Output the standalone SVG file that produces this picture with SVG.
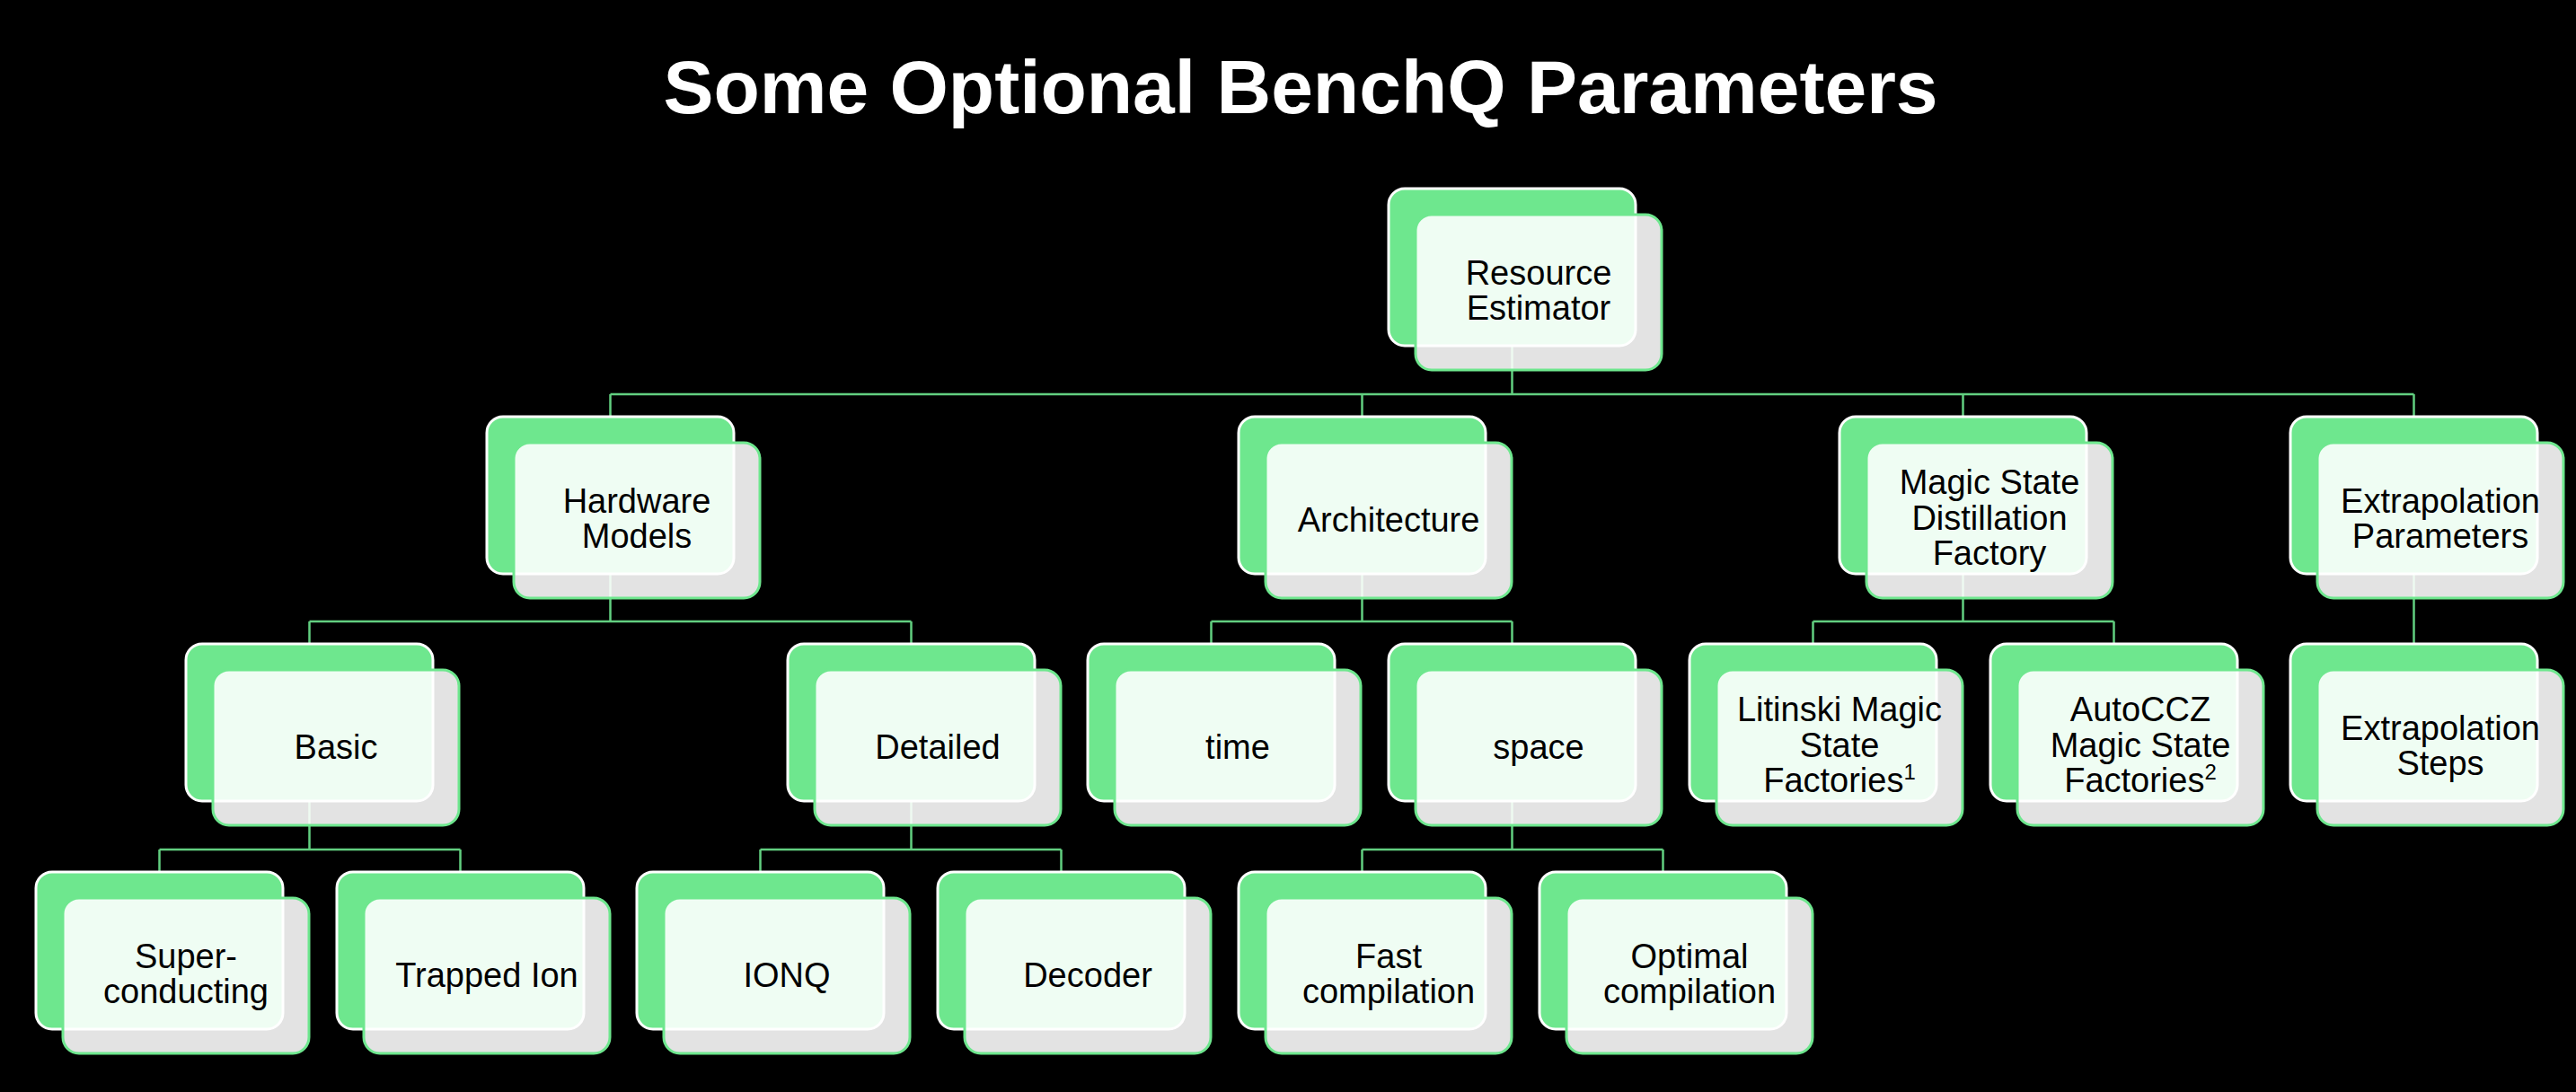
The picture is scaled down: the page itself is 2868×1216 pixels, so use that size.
<svg xmlns="http://www.w3.org/2000/svg" width="2868" height="1216" viewBox="0 0 2868 1216">
<style>
.back{fill:#6ee78e;stroke:#ffffff;stroke-width:3}
.front{fill:#ffffff;fill-opacity:0.89;stroke:#6ee78e;stroke-width:3}
.lbl{font-family:"Liberation Sans",Arial,sans-serif;font-size:38px;fill:#000000;text-anchor:middle}
.conn{fill:none;stroke:#62cf80;stroke-width:2.5}
.title{font-family:"Liberation Sans",Arial,sans-serif;font-size:84px;font-weight:bold;fill:#ffffff;text-anchor:middle}
.sup{font-size:24px}
</style>
<defs>
<g id="shape">
<rect class="back" x="0" y="0" width="275" height="175" rx="18"/>
<rect class="front" x="30" y="29" width="274" height="173" rx="18"/>
</g>
</defs>
<rect x="0" y="0" width="2868" height="1216" fill="#000000"/>
<text class="title" x="1448" y="126">Some Optional BenchQ Parameters</text>
<g id="connectors">
<path class="conn" d="M1683.5 385V439M679.5 439H2687.5M679.5 439V464M1516.5 439V464M2185.5 439V464M2687.5 439V464"/>
<path class="conn" d="M679.5 639V692M344.5 692H1014.5M344.5 692V717M1014.5 692V717"/>
<path class="conn" d="M1516.5 639V692M1348.5 692H1683.5M1348.5 692V717M1683.5 692V717"/>
<path class="conn" d="M2185.5 639V692M2018.5 692H2353.5M2018.5 692V717M2353.5 692V717"/>
<path class="conn" d="M2687.5 639V717"/>
<path class="conn" d="M344.5 892V946M177.5 946H512.5M177.5 946V971M512.5 946V971"/>
<path class="conn" d="M1014.5 892V946M846.5 946H1181.5M846.5 946V971M1181.5 946V971"/>
<path class="conn" d="M1683.5 892V946M1516.5 946H1851.5M1516.5 946V971M1851.5 946V971"/>
</g>
<g id="node-resource-estimator" transform="translate(1546 210)"><use href="#shape"/><text class="lbl" x="167" y="107">Resource</text><text class="lbl" x="167" y="146">Estimator</text></g>
<g id="node-hardware-models" transform="translate(542 464)"><use href="#shape"/><text class="lbl" x="167" y="107">Hardware</text><text class="lbl" x="167" y="146">Models</text></g>
<g id="node-architecture" transform="translate(1379 464)"><use href="#shape"/><text class="lbl" x="167" y="128">Architecture</text></g>
<g id="node-magic-state" transform="translate(2048 464)"><use href="#shape"/><text class="lbl" x="167" y="86">Magic State</text><text class="lbl" x="167" y="126">Distillation</text><text class="lbl" x="167" y="165">Factory</text></g>
<g id="node-extrapolation-parameters" transform="translate(2550 464)"><use href="#shape"/><text class="lbl" x="167" y="107">Extrapolation</text><text class="lbl" x="167" y="146">Parameters</text></g>
<g id="node-basic" transform="translate(207 717)"><use href="#shape"/><text class="lbl" x="167" y="128">Basic</text></g>
<g id="node-detailed" transform="translate(877 717)"><use href="#shape"/><text class="lbl" x="167" y="128">Detailed</text></g>
<g id="node-time" transform="translate(1211 717)"><use href="#shape"/><text class="lbl" x="167" y="128">time</text></g>
<g id="node-space" transform="translate(1546 717)"><use href="#shape"/><text class="lbl" x="167" y="128">space</text></g>
<g id="node-litinski" transform="translate(1881 717)"><use href="#shape"/><text class="lbl" x="167" y="86">Litinski Magic</text><text class="lbl" x="167" y="126">State</text><text class="lbl" x="167" y="165">Factories<tspan class="sup" dy="-14">1</tspan></text></g>
<g id="node-autoccz" transform="translate(2216 717)"><use href="#shape"/><text class="lbl" x="167" y="86">AutoCCZ</text><text class="lbl" x="167" y="126">Magic State</text><text class="lbl" x="167" y="165">Factories<tspan class="sup" dy="-14">2</tspan></text></g>
<g id="node-extrapolation-steps" transform="translate(2550 717)"><use href="#shape"/><text class="lbl" x="167" y="107">Extrapolation</text><text class="lbl" x="167" y="146">Steps</text></g>
<g id="node-superconducting" transform="translate(40 971)"><use href="#shape"/><text class="lbl" x="167" y="107">Super-</text><text class="lbl" x="167" y="146">conducting</text></g>
<g id="node-trapped-ion" transform="translate(375 971)"><use href="#shape"/><text class="lbl" x="167" y="128">Trapped Ion</text></g>
<g id="node-ionq" transform="translate(709 971)"><use href="#shape"/><text class="lbl" x="167" y="128">IONQ</text></g>
<g id="node-decoder" transform="translate(1044 971)"><use href="#shape"/><text class="lbl" x="167" y="128">Decoder</text></g>
<g id="node-fast-compilation" transform="translate(1379 971)"><use href="#shape"/><text class="lbl" x="167" y="107">Fast</text><text class="lbl" x="167" y="146">compilation</text></g>
<g id="node-optimal-compilation" transform="translate(1714 971)"><use href="#shape"/><text class="lbl" x="167" y="107">Optimal</text><text class="lbl" x="167" y="146">compilation</text></g>
</svg>
